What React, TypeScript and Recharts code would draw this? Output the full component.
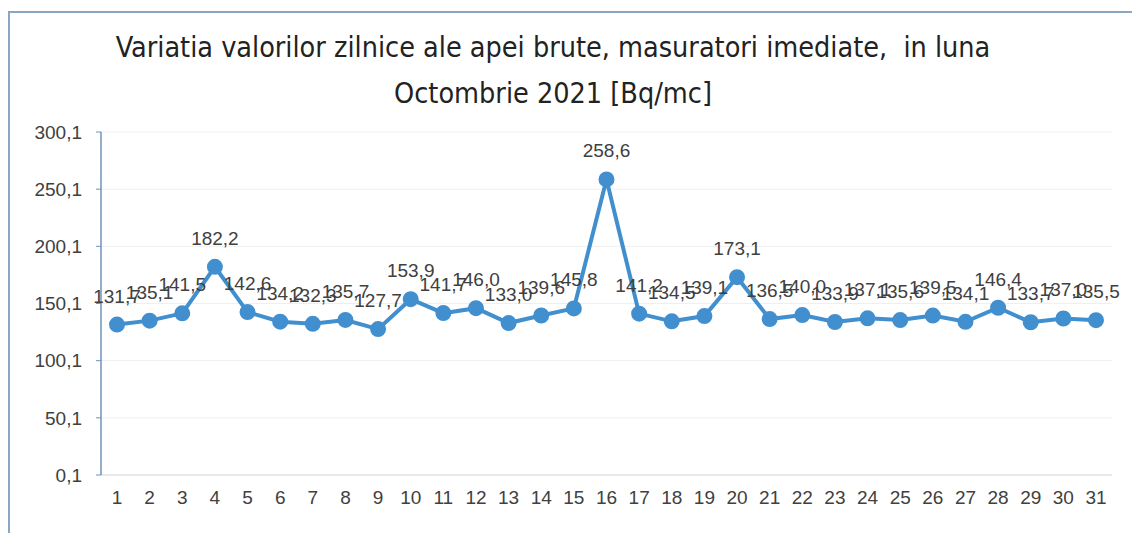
import { LineChart, Line, XAxis, YAxis, CartesianGrid, LabelList } from 'recharts';

const days = [
  '1', '2', '3', '4', '5', '6', '7', '8', '9', '10', '11', '12', '13', '14', '15', '16',
  '17', '18', '19', '20', '21', '22', '23', '24', '25', '26', '27', '28', '29', '30', '31',
];
const values = [
  131.7, 135.1, 141.5, 182.2, 142.6, 134.2, 132.3, 135.7, 127.7, 153.9, 141.7, 146.0, 133.0, 139.6, 145.8, 258.6,
  141.2, 134.5, 139.1, 173.1, 136.5, 140.0, 133.9, 137.1, 135.6, 139.5, 134.1, 146.4, 133.7, 137.0, 135.5,
];
const yTicks = [0.1, 50.1, 100.1, 150.1, 200.1, 250.1, 300.1];

const data = days.map((day, i) => ({ day, value: values[i] }));

const fmt = (v: number) => v.toFixed(1).replace('.', ',');
const blue = '#418fce';
const font = '"Liberation Sans", Arial, sans-serif';

export default function App() {
  return (
    <div style={{ position: 'absolute', left: 0, top: 0, width: 1132, height: 533, background: '#fff', overflow: 'hidden' }}>
      <div
        style={{
          position: 'absolute', left: 8, top: 11, width: 1200, height: 600,
          border: '2px solid #8aa6c4', boxSizing: 'border-box',
        }}
      />
      <div
        style={{
          position: 'absolute', left: 0, top: 25, width: 1106, textAlign: 'center',
          fontFamily: '"DejaVu Sans Condensed", sans-serif',
          fontSize: 28.5, lineHeight: '46px', color: '#222',
        }}
      >
        Variatia valorilor zilnice ale apei brute, masuratori imediate,&nbsp; in luna
        <br />
        Octombrie 2021 [Bq/mc]
      </div>
      <LineChart
        width={1132}
        height={533}
        data={data}
        margin={{ top: 132, right: 20, left: 0, bottom: 28 }}
        style={{ position: 'absolute', left: 0, top: 0 }}
      >
        <CartesianGrid vertical={false} stroke="#efefef" />
        <XAxis
          dataKey="day"
          height={30}
          padding={{ left: 16, right: 16 }}
          axisLine={{ stroke: '#dcdcdc' }}
          tickLine={false}
          tick={{ fill: '#404040', fontSize: 19, fontFamily: font }}
          interval={0}
          tickMargin={10}
        />
        <YAxis
          width={101}
          domain={[0.1, 300.1]}
          ticks={yTicks}
          tickFormatter={fmt}
          axisLine={{ stroke: '#6f93b8', strokeWidth: 1.5 }}
          tickLine={{ stroke: '#6f93b8' }}
          tickSize={5}
          tickMargin={14}
          tick={{ fill: '#404040', fontSize: 19, fontFamily: font }}
        />
        <Line
          type="linear"
          dataKey="value"
          stroke={blue}
          strokeWidth={4}
          dot={{ r: 6, fill: blue, stroke: blue }}
          isAnimationActive={false}
        >
          <LabelList
            dataKey="value"
            position="top"
            offset={22}
            formatter={(v: any) => fmt(Number(v))}
            style={{ fill: '#404040', fontSize: 19, fontFamily: font }}
          />
        </Line>
      </LineChart>
    </div>
  );
}
